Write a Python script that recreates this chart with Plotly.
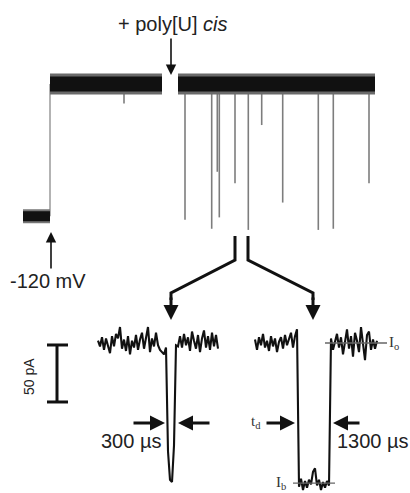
import plotly.graph_objects as go

W, H = 410, 493

# ---------------- data ----------------
# Main recording: time (s), current (pA) relative to the open-pore level
baseline_time = [0.0, 2.7]            # before the -120 mV step
baseline_current = [-116, -116]
step_time = 2.7
open_level = 0
open1_time = [2.7, 13.9]               # before poly[U] addition
open2_time = [15.5, 35.2]              # after poly[U] addition
event_times = [10.1, 16.2, 18.87, 19.43, 19.63, 21.2, 22.53, 23.87, 25.97, 29.53, 31.03, 34.6]
event_depths = [17, 119, 127, 77, 117, 87, 128, 36, 104, 128, 127, 87]   # pA below open level

# Inset A (300 µs event): sampled every 46 µs, current in pA
a_dt = 46
a_current = [2, -3, 5, -6, 4, -2, -9, 6, -3, 8, 4, 14, -5, 3, -7, 6, -10, 2, -4, 7,
             -6, 3, 9, -5, 6, 14, -8, 4, -3, 9, -2, -6, -8, -10,
             -4, -95, -120, -122, -90, -2,
             -3, 6, -4, 8, -2, 5, -7, 10, 2, -5, 7, -8, 4, 11, -4, 6, -6, 9, -3, 7, -5]

# Inset B (1300 µs event): sampled every 70 µs, current in pA
b_dt = 70
b_current = [3, -6, 5, -2, 8, -4, 2, -7, 6, -3, 4, -8, 1, 5, -5, 7, -2, 3, 9, -4, 6, 12,
             -126, -119, -129, -121, -127, -120, -124, -113, -110, -125, -120, -129, -122, -127, -121, -125,
             4, -6, 2, 8, -4, 5, -10, 3, 12, -5, 6, -12, 9, 2, -8, 14, -3, -15, 7, 10, -6, 3, -5, 2]
I_o = 0
I_b = -123
scale_bar_pA = 50

a_time = [i * a_dt for i in range(len(a_current))]
b_time = [i * b_dt for i in range(len(b_current))]

# ---------------- figure ----------------
fig = go.Figure()

# event spikes (gray)
sx, sy = [], []
for t, d in zip(event_times, event_depths):
    sx += [t, t, None]
    sy += [open_level, open_level - d, None]
fig.add_trace(go.Scatter(x=sx, y=sy, mode="lines",
                         line=dict(color="#7d7d7d", width=1.6), hoverinfo="skip"))
# voltage step
fig.add_trace(go.Scatter(x=[step_time, step_time], y=[baseline_current[-1], open_level],
                         mode="lines", line=dict(color="#8a8a8a", width=1.3), hoverinfo="skip"))
# baseline before step (fuzzy edge + dense core)
fig.add_trace(go.Scatter(x=baseline_time, y=baseline_current, mode="lines",
                         line=dict(color="#777", width=14), hoverinfo="skip"))
fig.add_trace(go.Scatter(x=baseline_time, y=baseline_current, mode="lines",
                         line=dict(color="#111", width=10), hoverinfo="skip"))
# open-pore bands (fuzzy edge + dense core)
for seg in (open1_time, open2_time):
    fig.add_trace(go.Scatter(x=seg, y=[open_level, open_level], mode="lines",
                             line=dict(color="#6a6a6a", width=21), hoverinfo="skip"))
    fig.add_trace(go.Scatter(x=seg, y=[open_level, open_level], mode="lines",
                             line=dict(color="#111", width=15), hoverinfo="skip"))

# insets
fig.add_trace(go.Scatter(x=a_time, y=a_current, mode="lines", xaxis="x2", yaxis="y2",
                         line=dict(color="#111", width=2.1), hoverinfo="skip"))
fig.add_trace(go.Scatter(x=b_time, y=b_current, mode="lines", xaxis="x3", yaxis="y2",
                         line=dict(color="#111", width=2.1), hoverinfo="skip"))


def px(x):
    return x / W


def py(y):
    return 1 - y / H


shapes = []
line_k = dict(color="#111", width=3)
# scale bar (50 pA) on inset current axis
bar_top = -1.75
shapes.append(dict(type="line", xref="paper", yref="y2", x0=px(57), x1=px(57),
                   y0=bar_top, y1=bar_top - scale_bar_pA, line=line_k))
for yv in (bar_top, bar_top - scale_bar_pA):
    shapes.append(dict(type="line", xref="paper", yref="y2", x0=px(47), x1=px(68),
                       y0=yv, y1=yv, line=line_k))
# I_o and I_b reference lines
shapes.append(dict(type="line", xref="paper", yref="y2", x0=px(325), x1=px(387),
                   y0=I_o, y1=I_o, line=dict(color="#666", width=1.3)))
shapes.append(dict(type="line", xref="paper", yref="y2", x0=px(293), x1=px(335),
                   y0=I_b, y1=I_b, line=dict(color="#666", width=1.3)))
# connector paths
for pts in ([(235, 236), (235, 260), (171, 293), (171, 300)],
            [(248, 236), (248, 260), (313, 293), (313, 300)]):
    path = "M " + " L ".join(f"{px(x):.5f},{py(y):.5f}" for x, y in pts)
    shapes.append(dict(type="path", xref="paper", yref="paper", path=path,
                       line=line_k))

annotations = []


def arrow(hx, hy, tx, ty, width=3, size=0.9):
    annotations.append(dict(xref="paper", yref="paper", x=px(hx), y=py(hy),
                            ax=tx - hx, ay=ty - hy, axref="pixel", ayref="pixel",
                            text="", showarrow=True, arrowhead=2, arrowsize=size,
                            arrowwidth=width, arrowcolor="#111", standoff=0,
                            startstandoff=0))


def label(x, y, text, size=20, xanchor="center", family="Liberation Sans, Arial",
          angle=0, color="#222"):
    annotations.append(dict(xref="paper", yref="paper", x=px(x), y=py(y), text=text,
                            showarrow=False, xanchor=xanchor, yanchor="middle",
                            textangle=angle,
                            font=dict(size=size, family=family, color=color)))


arrow(171, 75, 171, 37, width=1.6, size=1.3)
arrow(51, 232, 51, 270, width=1.6, size=1.3)
arrow(171, 320, 171, 296, width=3, size=1.0)
arrow(313, 320, 313, 296, width=3, size=1.0)
arrow(165, 423, 132, 423, size=1.0)
arrow(178, 423, 211, 423, size=1.0)
arrow(295, 423, 265, 423, size=1.0)
arrow(333, 423, 361, 423, size=1.0)

label(173, 24, "+ poly[U] <i>cis</i>")
label(48, 281, "-120 mV")
label(131, 441, "300 µs")
label(335, 441, "1300 µs", xanchor="left")
label(29, 376, "50 pA", size=14, angle=-90)
serif = "Liberation Serif, Times New Roman"
label(256, 422, "t<sub>d</sub>", size=15, family=serif, color="#333")
label(394, 343, "I<sub>o</sub>", size=15, family=serif, color="#333")
label(281, 483, "I<sub>b</sub>", size=15, family=serif, color="#333")

hidden = dict(visible=False, showgrid=False, zeroline=False, fixedrange=True)
fig.update_layout(
    width=W, height=H, autosize=False,
    margin=dict(l=0, r=0, t=0, b=0),
    paper_bgcolor="white", plot_bgcolor="white",
    showlegend=False,
    xaxis=dict(range=[-2.3, 38.7], domain=[0, 1], **hidden),
    yaxis=dict(range=[-358.8, 73.7], domain=[0, 1], **hidden),
    xaxis2=dict(range=[-98 * 23, (410 - 98) * 23], overlaying="x", **hidden),
    xaxis3=dict(range=[-255 * 35, (410 - 255) * 35], overlaying="x", **hidden),
    yaxis2=dict(range=[-131.6, 300.9], overlaying="y", **hidden),
    shapes=shapes, annotations=annotations,
)

fig.write_html("out.html", config={"staticPlot": True},
               post_script="document.body.style.margin='0';document.body.style.overflow='hidden';")
